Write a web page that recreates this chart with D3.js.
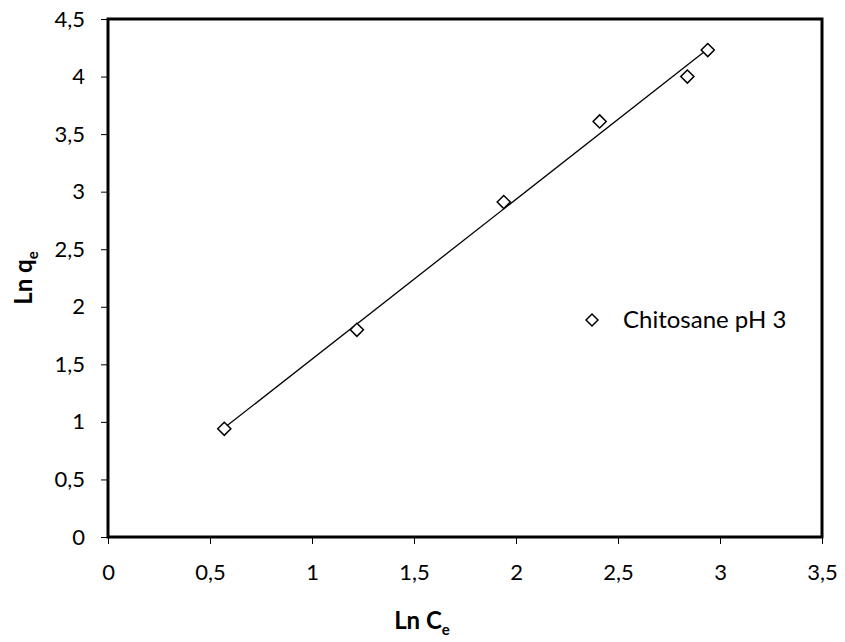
<!DOCTYPE html>
<html>
<head>
<meta charset="utf-8">
<script src="https://cdn.jsdelivr.net/npm/d3@7"></script>
<style>
  body { margin: 0; background: #fff; }
  svg { display: block; font-family: Lato, "Open Sans", sans-serif; }
</style>
</head>
<body>
<svg id="chart"></svg>
<script>
// data
const lnCe = [0.57, 1.22, 1.94, 2.41, 2.84, 2.94];
const lnQe = [0.94, 1.80, 2.91, 3.61, 4.00, 4.23];
const xTicks = [0, 0.5, 1, 1.5, 2, 2.5, 3, 3.5];
const yTicks = [0, 0.5, 1, 1.5, 2, 2.5, 3, 3.5, 4, 4.5];
const seriesName = "Chitosane pH 3";

const width = 845, height = 642;
const margin = {top: 19, right: 23, bottom: 105, left: 108};

const svg = d3.select("#chart").attr("width", width).attr("height", height);

const x = d3.scaleLinear([0, 3.5], [margin.left, width - margin.right]);
const y = d3.scaleLinear([0, 4.5], [height - margin.bottom, margin.top]);

const fmt = d => String(d).replace(".", ",");

// axes
const xAxis = svg.append("g")
  .attr("transform", `translate(0,${y(0)})`)
  .call(d3.axisBottom(x).tickValues(xTicks).tickFormat(fmt).tickSize(7).tickPadding(20));
const yAxis = svg.append("g")
  .attr("transform", `translate(${x(0)},0)`)
  .call(d3.axisLeft(y).tickValues(yTicks).tickFormat(fmt).tickSize(7).tickPadding(16));

[xAxis, yAxis].forEach(g => {
  g.select(".domain").remove();
  g.selectAll("text").attr("font-size", 22).attr("fill", "#000")
    .style("font-family", "Lato, 'Open Sans', sans-serif");
  g.selectAll("line").attr("stroke", "#000").attr("stroke-width", 1);
});

// plot frame
svg.append("rect")
  .attr("x", x(0)).attr("y", y(4.5))
  .attr("width", x(3.5) - x(0)).attr("height", y(0) - y(4.5))
  .attr("fill", "none").attr("stroke", "#000").attr("stroke-width", 3);

// linear trendline (least squares)
const pts = lnCe.map((v, i) => [v, lnQe[i]]);
const mx = d3.mean(lnCe), my = d3.mean(lnQe);
const slope = d3.sum(pts, p => (p[0] - mx) * (p[1] - my)) / d3.sum(pts, p => (p[0] - mx) ** 2);
const icpt = my - slope * mx;
const x0 = d3.min(lnCe), x1 = d3.max(lnCe);
svg.append("line")
  .attr("x1", x(x0)).attr("y1", y(icpt + slope * x0))
  .attr("x2", x(x1)).attr("y2", y(icpt + slope * x1))
  .attr("stroke", "#000").attr("stroke-width", 1.3);

// markers
const diamond = d3.symbol().type(d3.symbolDiamond2).size(110);
svg.append("g").selectAll("path")
  .data(pts)
  .join("path")
  .attr("d", diamond)
  .attr("transform", d => `translate(${x(d[0])},${y(d[1])})`)
  .attr("fill", "#fff").attr("stroke", "#000").attr("stroke-width", 1.5);

// legend
const lg = svg.append("g").attr("transform", "translate(592,320)");
lg.append("path").attr("d", d3.symbol().type(d3.symbolDiamond2).size(90))
  .attr("fill", "#fff").attr("stroke", "#000").attr("stroke-width", 1.5);
lg.append("text").attr("x", 31).attr("y", 8).attr("font-size", 24).text(seriesName);

// axis titles
const xt = svg.append("text")
  .attr("x", 422).attr("y", 629)
  .attr("text-anchor", "middle").attr("font-size", 24).attr("font-weight", "bold");
xt.append("tspan").text("Ln C");
xt.append("tspan").attr("font-size", 15).attr("dy", 6).text("e");

const yt = svg.append("text")
  .attr("transform", "translate(32,278) rotate(-90)")
  .attr("text-anchor", "middle").attr("font-size", 24).attr("font-weight", "bold");
yt.append("tspan").text("Ln q");
yt.append("tspan").attr("font-size", 15).attr("dy", 6).text("e");
</script>
</body>
</html>
